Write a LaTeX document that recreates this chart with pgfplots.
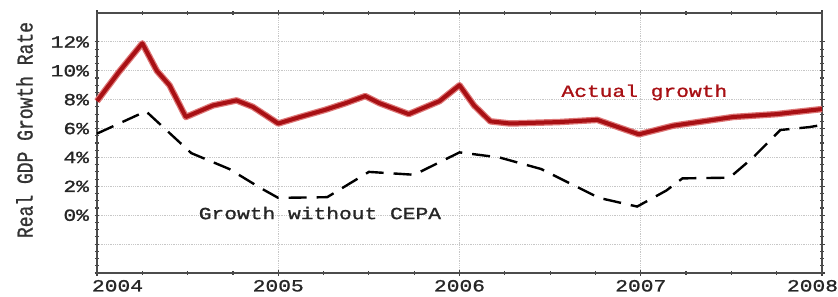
\documentclass[border=0pt]{standalone}
\usepackage{fontspec}
\usepackage{graphicx}
\usepackage{pgfplots}
\pgfplotsset{compat=1.18}
\setmainfont{Liberation Mono}
\newfontfamily\wmono[FakeStretch=1.25,FakeBold=1.2]{Liberation Mono}
\newfontfamily\nmono[FakeBold=1.2]{Liberation Mono}
\definecolor{darkred}{RGB}{168,16,20}
\definecolor{halo}{RGB}{222,120,120}
\begin{document}
\begin{tikzpicture}
\begin{axis}[
  name=ax,
  scale only axis,
  width=725pt, height=260pt,
  xmin=2004, xmax=2008, ymin=-4, ymax=14,
  xtick={2004,2005,2006,2007,2008},
  xticklabels={\makebox[0pt][l]{\hspace{-5pt}2004},2005,2006,2007,\makebox[0pt][r]{2008\hspace{-16pt}}},
  ytick={-4,-2,0,2,4,6,8,10,12},
  yticklabels={,,0\%,2\%,4\%,6\%,8\%,10\%,12\%},
  minor x tick num=3,
  minor y tick num=3,
  tick align=center,
  major tick length=5pt, minor tick length=3.5pt,
  tick style={black!75, line width=1.2pt},
  axis line style={black!70, line width=1.5pt},
  grid=major,
  grid style={black!22, line width=0.8pt, densely dotted},
  ticklabel style={font=\fontsize{17}{20}\wmono, text=black!85},
  xticklabel style={yshift=-1pt},
  yticklabel style={xshift=-2pt},
  ylabel={\scalebox{1}[1.25]{\fontsize{18}{20}\nmono Real GDP Growth Rate}},
  ylabel style={at={(axis description cs:-0.1,0.55)}, anchor=center, text=black!80},
  clip=false,
]
\addplot[halo, line width=6.5pt, line join=round] coordinates {
(2004.00,7.9) (2004.12,9.9) (2004.25,11.9) (2004.33,10.0) (2004.40,9.0)
(2004.49,6.8) (2004.64,7.6) (2004.77,7.95) (2004.86,7.5) (2005.00,6.35)
(2005.12,6.8) (2005.26,7.3) (2005.37,7.75) (2005.48,8.25) (2005.56,7.75)
(2005.72,7.0) (2005.89,7.9) (2006.00,9.0) (2006.08,7.6) (2006.17,6.5)
(2006.28,6.35) (2006.55,6.45) (2006.76,6.6) (2006.99,5.6) (2007.18,6.2)
(2007.51,6.8) (2007.75,7.0) (2008.00,7.35)};
\addplot[darkred, line width=4pt, line join=round] coordinates {
(2004.00,7.9) (2004.12,9.9) (2004.25,11.9) (2004.33,10.0) (2004.40,9.0)
(2004.49,6.8) (2004.64,7.6) (2004.77,7.95) (2004.86,7.5) (2005.00,6.35)
(2005.12,6.8) (2005.26,7.3) (2005.37,7.75) (2005.48,8.25) (2005.56,7.75)
(2005.72,7.0) (2005.89,7.9) (2006.00,9.0) (2006.08,7.6) (2006.17,6.5)
(2006.28,6.35) (2006.55,6.45) (2006.76,6.6) (2006.99,5.6) (2007.18,6.2)
(2007.51,6.8) (2007.75,7.0) (2008.00,7.35)};
\addplot[black, line width=2.4pt, dash pattern=on 18pt off 10pt] coordinates {
(2004.00,5.65) (2004.27,7.2) (2004.52,4.3) (2004.73,3.2) (2004.90,1.9)
(2005.00,1.2) (2005.27,1.25) (2005.50,3.0) (2005.75,2.8) (2006.00,4.35)
(2006.22,4.0) (2006.45,3.2) (2006.61,2.2) (2006.77,1.2) (2006.98,0.6)
(2007.14,1.7) (2007.23,2.55) (2007.49,2.6) (2007.62,4.0) (2007.77,5.9)
(2007.93,6.1) (2008.00,6.25)};
\node[text=darkred, font=\fontsize{17}{20}\wmono] at (axis cs:2007.02,8.5) {Actual growth};
\node[text=black!85, font=\fontsize{17}{20}\wmono] at (axis cs:2005.23,0.15) {Growth without CEPA};
\end{axis}
\pgfresetboundingbox
\path ([xshift=-97pt,yshift=-24pt]ax.south west) rectangle ([xshift=16pt,yshift=13pt]ax.north east);
\end{tikzpicture}
\end{document}
